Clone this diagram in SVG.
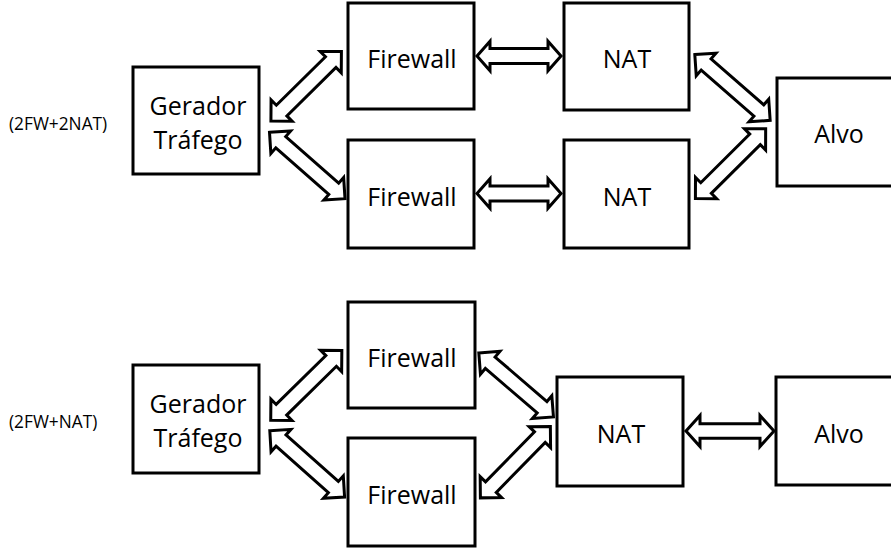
<svg xmlns="http://www.w3.org/2000/svg" width="891" height="549" viewBox="0 0 891 549">
<style>
.box{fill:#fff;stroke:#000;stroke-width:3}
.arr{fill:#fff;stroke:#000;stroke-width:3;stroke-linejoin:miter}
.t{font-family:"Open Sans","Liberation Sans",sans-serif;font-size:25px;fill:#000;text-anchor:middle}
.lbl{font-family:"Open Sans","Liberation Sans",sans-serif;font-size:17.3px;fill:#000}
</style>
<rect width="891" height="549" fill="#fff"/>
<text class="lbl" x="9" y="129.5">(2FW+2NAT)</text>
<text class="lbl" x="9" y="427.5">(2FW+NAT)</text>
<g id="connectors">
<polygon class="arr" points="477,56 490,41.3 490,48.5 548,48.5 548,41.3 561,56 548,70.7 548,63.5 490,63.5 490,70.7"/>
<polygon class="arr" points="477,193.5 490,178.8 490,186 548,186 548,178.8 561,193.5 548,208.2 548,201 490,201 490,208.2"/>
<polygon class="arr" points="686,431 700,415.5 700,423.8 760,423.8 760,415.5 774,431 760,446.5 760,438.2 700,438.2 700,446.5"/>
<polygon class="arr" transform="translate(269.5,122.5) rotate(-44.6)" points="2,0 17,-15 17,-7.5 86,-7.5 86,-15 101,0 86,15 86,7.5 17,7.5 17,15"/>
<polygon class="arr" transform="translate(268,131) rotate(41.3)" points="2,0 17,-15 17,-7.5 87.5,-7.5 87.5,-15 102.5,0 87.5,15 87.5,7.5 17,7.5 17,15"/>
<polygon class="arr" transform="translate(693.3,53.3) rotate(41.1)" points="2,0 17,-15 17,-7.5 87,-7.5 87,-15 102,0 87,15 87,7.5 17,7.5 17,15"/>
<polygon class="arr" transform="translate(694,200) rotate(-44.8)" points="2,0 17,-15 17,-7.5 86,-7.5 86,-15 101,0 86,15 86,7.5 17,7.5 17,15"/>
<polygon class="arr" transform="translate(269.3,421.7) rotate(-44.5)" points="2,0 17,-15 17,-7.5 86.7,-7.5 86.7,-15 101.7,0 86.7,15 86.7,7.5 17,7.5 17,15"/>
<polygon class="arr" transform="translate(268.3,429.3) rotate(41.6)" points="2,0 17,-15 17,-7.5 87,-7.5 87,-15 102,0 87,15 87,7.5 17,7.5 17,15"/>
<polygon class="arr" transform="translate(477.3,351.7) rotate(40.6)" points="2,0 17,-15 17,-7.5 85.3,-7.5 85.3,-15 100.3,0 85.3,15 85.3,7.5 17,7.5 17,15"/>
<polygon class="arr" transform="translate(479,499.3) rotate(-45.6)" points="2,0 17,-15 17,-7.5 87,-7.5 87,-15 102,0 87,15 87,7.5 17,7.5 17,15"/>
</g>
<g id="gerador1"><rect class="box" x="133" y="67" width="126" height="107"/><text class="t" x="198" y="115">Gerador</text><text class="t" x="198" y="149">Tráfego</text></g>
<g id="firewall1"><rect class="box" x="348" y="3" width="126" height="106"/><text class="t" x="412" y="67.5">Firewall</text></g>
<g id="firewall2"><rect class="box" x="348" y="140" width="126" height="108"/><text class="t" x="412" y="205.5">Firewall</text></g>
<g id="nat1"><rect class="box" x="564" y="3" width="125" height="107"/><text class="t" x="627" y="67.5">NAT</text></g>
<g id="nat2"><rect class="box" x="564" y="140" width="125" height="108"/><text class="t" x="627" y="205.5">NAT</text></g>
<g id="alvo1"><rect class="box" x="777" y="78" width="126" height="108"/><text class="t" x="839" y="143">Alvo</text></g>
<g id="gerador2"><rect class="box" x="133" y="365" width="126" height="108"/><text class="t" x="198" y="413">Gerador</text><text class="t" x="198" y="447">Tráfego</text></g>
<g id="firewall3"><rect class="box" x="348" y="302" width="127" height="106"/><text class="t" x="412" y="366.5">Firewall</text></g>
<g id="firewall4"><rect class="box" x="348" y="438" width="127" height="108"/><text class="t" x="412" y="503.5">Firewall</text></g>
<g id="nat3"><rect class="box" x="557" y="377" width="126" height="109"/><text class="t" x="621" y="443">NAT</text></g>
<g id="alvo2"><rect class="box" x="776" y="377" width="126" height="108"/><text class="t" x="839" y="443">Alvo</text></g>
</svg>
